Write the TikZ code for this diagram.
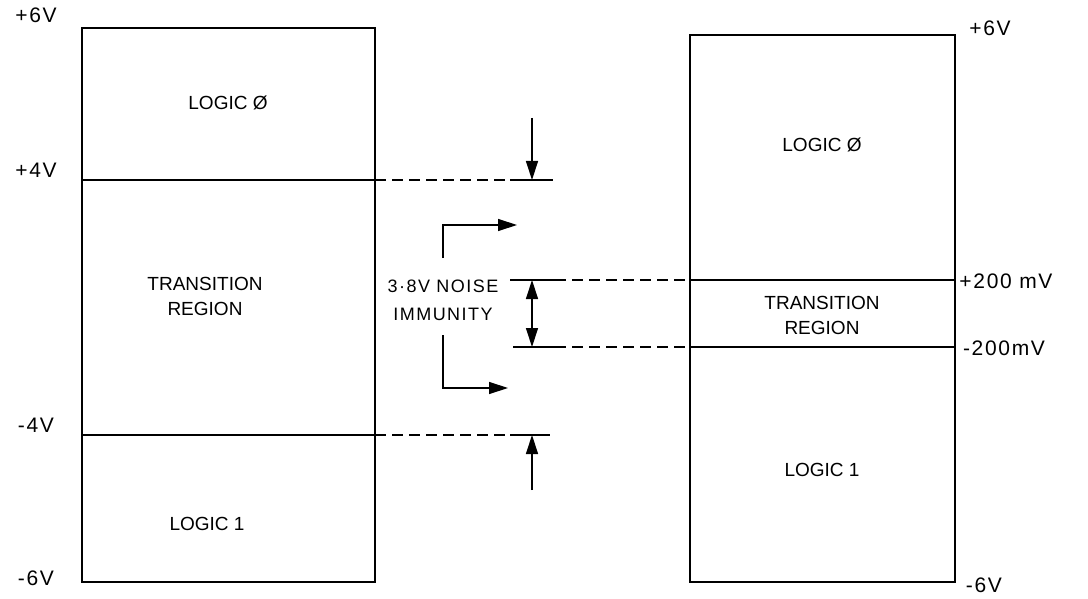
\documentclass[tikz,border=0pt]{standalone}
\usepackage{fontspec}
\setmainfont{Liberation Sans}
\newfontfamily\voltfont{Liberation Sans}[LetterSpace=8]
\usetikzlibrary{arrows.meta}

\tikzset{
  lbl/.style={font=\voltfont\fontsize{21}{28}\selectfont, inner sep=1pt},
  band/.style={font=\fontsize{19}{25}\selectfont, inner sep=1pt, align=center},
  level/.style={line width=1.3pt},
  guide/.style={line width=1.3pt, dash pattern=on 11pt off 6pt},
  pointer/.style={line width=1.3pt, -{Triangle[length=19pt,width=12pt]}},
}

\begin{document}
\begin{tikzpicture}[x=1pt,y=-1pt]
    \useasboundingbox (0,0) rectangle (1088,599);

    % Define the corners and levels of the left box
    \coordinate (LA) at (82,28);
    \coordinate (LB) at (375,28);
    \coordinate (LC) at (375,582);
    \coordinate (LD) at (82,582);
    \coordinate (LP) at (82,180);
    \coordinate (LQ) at (375,180);
    \coordinate (LN) at (82,435);
    \coordinate (LM) at (375,435);

    % Define the corners and levels of the right box
    \coordinate (RA) at (690,35);
    \coordinate (RB) at (955,35);
    \coordinate (RC) at (955,582);
    \coordinate (RD) at (690,582);
    \coordinate (RP) at (690,280);
    \coordinate (RQ) at (955,280);
    \coordinate (RN) at (690,347);
    \coordinate (RM) at (955,347);

    % Draw the boxes
    \draw[level] (LA) -- (LB) -- (LC) -- (LD) -- cycle;
    \draw[level] (LP) -- (LQ);
    \draw[level] (LN) -- (LM);
    \draw[level] (RA) -- (RB) -- (RC) -- (RD) -- cycle;
    \draw[level] (RP) -- (RQ);
    \draw[level] (RN) -- (RM);

    % Draw the guide lines between the boxes
    \coordinate (G1) at (510,180);
    \coordinate (G2) at (553,180);
    \coordinate (G3) at (510,435);
    \coordinate (G4) at (550,435);
    \coordinate (G5) at (510,280);
    \coordinate (G6) at (555,280);
    \coordinate (G7) at (513,347);
    \coordinate (G8) at (555,347);
    \draw[guide] (LQ) -- (G1);
    \draw[level] (G1) -- (G2);
    \draw[guide] (LM) -- (G3);
    \draw[level] (G3) -- (G4);
    \draw[level] (G5) -- (G6);
    \draw[guide] (G6) -- (RP);
    \draw[level] (G7) -- (G8);
    \draw[guide] (G8) -- (RN);

    % Draw the margin arrows
    \coordinate (T1) at (532,118);
    \coordinate (T2) at (532,180);
    \coordinate (T3) at (532,490);
    \coordinate (T4) at (532,435);
    \coordinate (T5) at (532,280);
    \coordinate (T6) at (532,347);
    \draw[pointer] (T1) -- (T2);
    \draw[pointer] (T3) -- (T4);
    \draw[pointer, {Triangle[length=19pt,width=12pt]}-{Triangle[length=19pt,width=12pt]}] (T5) -- (T6);

    % Draw the label brackets
    \coordinate (K1) at (443,258);
    \coordinate (K2) at (443,225);
    \coordinate (K3) at (517,225);
    \coordinate (K4) at (443,335);
    \coordinate (K5) at (443,388);
    \coordinate (K6) at (508,388);
    \draw[pointer] (K1) -- (K2) -- (K3);
    \draw[pointer] (K4) -- (K5) -- (K6);
    \node[band, font=\voltfont\fontsize{18}{28}\selectfont] (noise) at (443,300) {3·8V NOISE\\IMMUNITY};

    % Place the voltage labels
    \node[lbl] (l6p) at (36,15) {+6V};
    \node[lbl] (l4p) at (36,170) {+4V};
    \node[lbl] (l4n) at (36,425) {-4V};
    \node[lbl] (l6n) at (36,578) {-6V};
    \node[lbl] (r6p) at (990,28) {+6V};
    \node[lbl] (r2p) at (1006,281) {+200 mV};
    \node[lbl] (r2n) at (1004,348) {-200mV};
    \node[lbl] (r6n) at (984,585) {-6V};

    % Place the region labels
    \node[band] (lzero) at (228,103) {LOGIC Ø};
    \node[band] (ltrans) at (205,296) {TRANSITION\\REGION};
    \node[band] (lone) at (207,524) {LOGIC 1};
    \node[band] (rzero) at (822,145) {LOGIC Ø};
    \node[band] (rtrans) at (822,315) {TRANSITION\\REGION};
    \node[band] (rone) at (822,470) {LOGIC 1};
\end{tikzpicture}
\end{document}
